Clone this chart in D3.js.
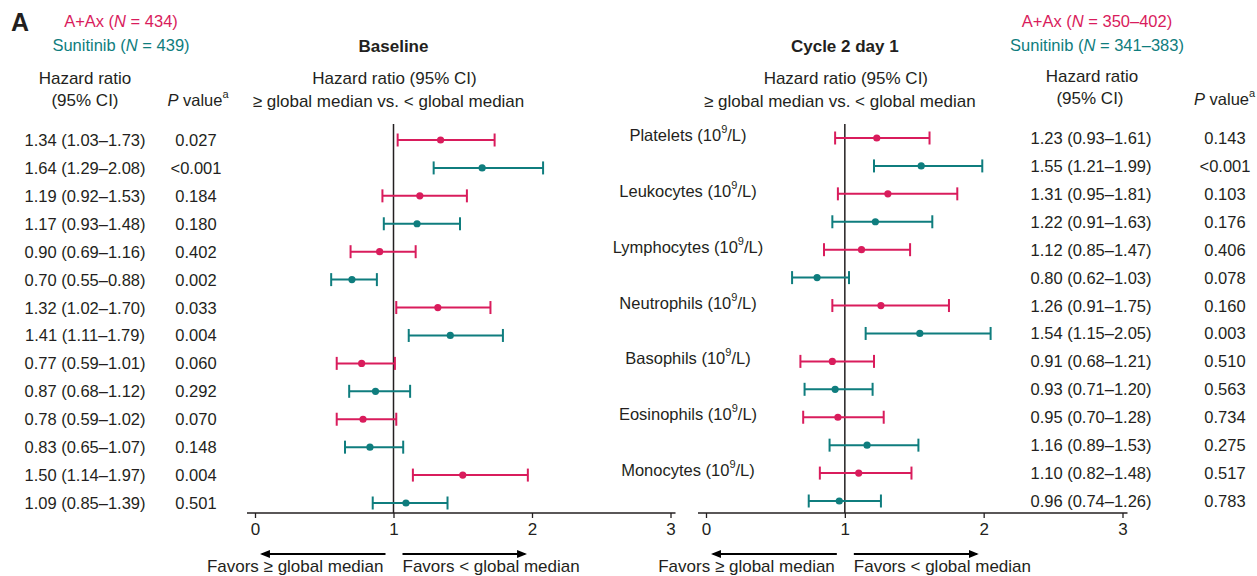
<!DOCTYPE html>
<html>
<head>
<meta charset="utf-8">
<script src="https://cdn.jsdelivr.net/npm/d3@7/dist/d3.min.js"></script>
<style>
  html, body { margin: 0; padding: 0; background: #fff; }
  svg { display: block; font-family: "Liberation Sans", Arial, Helvetica, sans-serif; }
  text { fill: #231f20; }
</style>
</head>
<body>
<svg id="chart" width="1257" height="576"></svg>
<script>
// Blood-cell subgroups
const categories = ["Platelets", "Leukocytes", "Lymphocytes", "Neutrophils", "Basophils", "Eosinophils", "Monocytes"];

// Baseline: hazard ratio, 95% CI, P value
const baseAxHR  = [1.34, 1.19, 0.90, 1.32, 0.77, 0.78, 1.50];
const baseAxLo  = [1.03, 0.92, 0.69, 1.02, 0.59, 0.59, 1.14];
const baseAxHi  = [1.73, 1.53, 1.16, 1.70, 1.01, 1.02, 1.97];
const baseAxP   = ["0.027", "0.184", "0.402", "0.033", "0.060", "0.070", "0.004"];
const baseSuHR  = [1.64, 1.17, 0.70, 1.41, 0.87, 0.83, 1.09];
const baseSuLo  = [1.29, 0.93, 0.55, 1.11, 0.68, 0.65, 0.85];
const baseSuHi  = [2.08, 1.48, 0.88, 1.79, 1.12, 1.07, 1.39];
const baseSuP   = ["<0.001", "0.180", "0.002", "0.004", "0.292", "0.148", "0.501"];

// Cycle 2 day 1: hazard ratio, 95% CI, P value
const c2AxHR = [1.23, 1.31, 1.12, 1.26, 0.91, 0.95, 1.10];
const c2AxLo = [0.93, 0.95, 0.85, 0.91, 0.68, 0.70, 0.82];
const c2AxHi = [1.61, 1.81, 1.47, 1.75, 1.21, 1.28, 1.48];
const c2AxP  = ["0.143", "0.103", "0.406", "0.160", "0.510", "0.734", "0.517"];
const c2SuHR = [1.55, 1.22, 0.80, 1.54, 0.93, 1.16, 0.96];
const c2SuLo = [1.21, 0.91, 0.62, 1.15, 0.71, 0.89, 0.74];
const c2SuHi = [1.99, 1.63, 1.03, 2.05, 1.20, 1.53, 1.26];
const c2SuP  = ["<0.001", "0.176", "0.078", "0.003", "0.563", "0.275", "0.783"];

const xTicks = [0, 1, 2, 3];
const arms = ["A+Ax", "Sunitinib"];

const PINK = "#d91c5c";
const TEAL = "#0f7d7e";
const INK = "#231f20";
const FS = 16.5;

// One row per arm per subgroup, A+Ax first
function buildRows(axHR, axLo, axHi, axP, suHR, suLo, suHi, suP) {
  const rows = [];
  categories.forEach((c, i) => {
    rows.push({ key: c + "|A", cat: c, arm: arms[0], hr: axHR[i], lo: axLo[i], hi: axHi[i], p: axP[i], idx: i });
    rows.push({ key: c + "|S", cat: c, arm: arms[1], hr: suHR[i], lo: suLo[i], hi: suHi[i], p: suP[i], idx: i });
  });
  return rows;
}
const baseRows = buildRows(baseAxHR, baseAxLo, baseAxHi, baseAxP, baseSuHR, baseSuLo, baseSuHi, baseSuP);
const c2Rows = buildRows(c2AxHR, c2AxLo, c2AxHi, c2AxP, c2SuHR, c2SuLo, c2SuHi, c2SuP);

const color = d3.scaleOrdinal().domain(arms).range([PINK, TEAL]);
const fmt = d3.format(".2f");
const hrText = d => `${fmt(d.hr)} (${fmt(d.lo)}\u2013${fmt(d.hi)})`;

const svg = d3.select("#chart");
const axisY = 513;

// Row positions for each panel
const yBase = d3.scalePoint().domain(baseRows.map(d => d.key)).range([140, 503]);
const yC2 = d3.scalePoint().domain(c2Rows.map(d => d.key)).range([138, 501]);

// Hazard-ratio scales for the two panels
const xBase = d3.scaleLinear().domain([0, 3]).range([255, 670.5]);
const xC2 = d3.scaleLinear().domain([0, 3]).range([706, 1122.5]);

function txt(g, x, y, s, opts = {}) {
  return g.append("text")
    .attr("x", x).attr("y", y)
    .attr("text-anchor", opts.anchor || "middle")
    .attr("dominant-baseline", "central")
    .style("font-size", (opts.size || FS) + "px")
    .style("font-weight", opts.bold ? "bold" : "normal")
    .style("fill", opts.fill || INK)
    .text(s);
}

function armHeader(g, cx, nA, nS) {
  const t1 = txt(g, cx, 21, null, { fill: PINK });
  t1.append("tspan").text("A+Ax (");
  t1.append("tspan").style("font-style", "italic").text("N");
  t1.append("tspan").text(" = " + nA + ")");
  const t2 = txt(g, cx, 45, null, { fill: TEAL });
  t2.append("tspan").text("Sunitinib (");
  t2.append("tspan").style("font-style", "italic").text("N");
  t2.append("tspan").text(" = " + nS + ")");
}

function pHeader(g, x, y, anchor) {
  const t = txt(g, x, y, null, { anchor: anchor });
  t.append("tspan").style("font-style", "italic").text("P");
  t.append("tspan").text(" value");
  t.append("tspan").attr("dy", -6).style("font-size", "11px").text("a");
}

function forestPanel(rows, x, y, title) {
  const g = svg.append("g");
  const [r0, r1] = x.range();
  const cx = x(1);

  txt(g, cx, 46, title, { bold: true, size: 17 });
  txt(g, cx + 1, 78, "Hazard ratio (95% CI)", { size: 17 });
  txt(g, cx - 5, 101, "\u2265 global median vs. < global median", { size: 17 });

  // axis
  const axis = d3.axisBottom(x).tickValues(xTicks).tickFormat(d3.format("d")).tickSize(5).tickPadding(5);
  const ag = g.append("g").attr("transform", `translate(0,${axisY})`).call(axis);
  ag.select(".domain").remove();
  ag.append("line").attr("x1", r0 - 8).attr("x2", r1 + 5).attr("stroke", INK).attr("stroke-width", 1.3);
  ag.selectAll(".tick line").attr("stroke", INK).attr("stroke-width", 1.3);
  ag.selectAll(".tick text")
    .style("font-size", "17px").style("font-family", "'Liberation Sans', Arial, sans-serif")
    .attr("fill", INK);

  // line of no effect
  g.append("line").attr("x1", cx).attr("x2", cx).attr("y1", 124).attr("y2", axisY)
    .attr("stroke", INK).attr("stroke-width", 1.5);

  // intervals
  const bars = g.selectAll("g.bar").data(rows).join("g").attr("class", "bar")
    .attr("transform", d => `translate(0,${y(d.key)})`);
  bars.append("line").attr("x1", d => x(d.lo)).attr("x2", d => x(d.hi))
    .attr("stroke", d => color(d.arm)).attr("stroke-width", 2);
  bars.append("line").attr("x1", d => x(d.lo)).attr("x2", d => x(d.lo)).attr("y1", -6.5).attr("y2", 6.5)
    .attr("stroke", d => color(d.arm)).attr("stroke-width", 2);
  bars.append("line").attr("x1", d => x(d.hi)).attr("x2", d => x(d.hi)).attr("y1", -6.5).attr("y2", 6.5)
    .attr("stroke", d => color(d.arm)).attr("stroke-width", 2);
  bars.append("circle").attr("cx", d => x(d.hr)).attr("r", 3.6).attr("fill", d => color(d.arm));

  // direction arrows
  const arrowY = 554;
  g.append("line").attr("x1", cx - 8).attr("x2", x(0.05)).attr("y1", arrowY).attr("y2", arrowY)
    .attr("stroke", "#000").attr("stroke-width", 2).attr("marker-end", "url(#arrowhead)");
  g.append("line").attr("x1", cx + 9).attr("x2", x(1.95)).attr("y1", arrowY).attr("y2", arrowY)
    .attr("stroke", "#000").attr("stroke-width", 2).attr("marker-end", "url(#arrowhead)");
  txt(g, cx - 10, 566, "Favors \u2265 global median", { anchor: "end", size: 17 });
  txt(g, cx + 9, 566, "Favors < global median", { anchor: "start", size: 17 });
  return g;
}

svg.append("defs").append("marker")
  .attr("id", "arrowhead").attr("viewBox", "0 0 10 10")
  .attr("refX", 8).attr("refY", 5)
  .attr("markerWidth", 5).attr("markerHeight", 5)
  .attr("markerUnits", "strokeWidth")
  .attr("orient", "auto")
  .append("path").attr("d", "M0,1 L10,5 L0,9 Z").attr("fill", "#000");

// Panel letter
txt(svg, 11, 22, "A", { anchor: "start", bold: true, size: 25 });

// Left table: baseline
const left = svg.append("g");
armHeader(left, 121, 434, 439);
txt(left, 85, 78, "Hazard ratio", { size: 17 });
txt(left, 85, 100, "(95% CI)", { size: 17 });
pHeader(left, 198, 100, "middle");
baseRows.forEach(d => {
  txt(left, 85, yBase(d.key), hrText(d));
  txt(left, 196, yBase(d.key), d.p);
});

// Right table: cycle 2 day 1
const right = svg.append("g");
armHeader(right, 1097, "350\u2013402", "341\u2013383");
txt(right, 1092, 76, "Hazard ratio", { size: 17 });
txt(right, 1090, 98, "(95% CI)", { size: 17 });
pHeader(right, 1194, 99, "start");
c2Rows.forEach(d => {
  txt(right, 1091, yC2(d.key), hrText(d));
  txt(right, 1225, yC2(d.key), d.p);
});

forestPanel(baseRows, xBase, yBase, "Baseline");
forestPanel(c2Rows, xC2, yC2, "Cycle 2 day 1");

// Subgroup labels between the panels
const labels = svg.append("g");
categories.forEach(c => {
  const t = txt(labels, 688, yC2(c + "|A") - 3, null);
  t.append("tspan").text(c + " (10");
  t.append("tspan").attr("dy", -6).style("font-size", "11px").text("9");
  t.append("tspan").attr("dy", 6).text("/L)");
});
</script>
</body>
</html>
